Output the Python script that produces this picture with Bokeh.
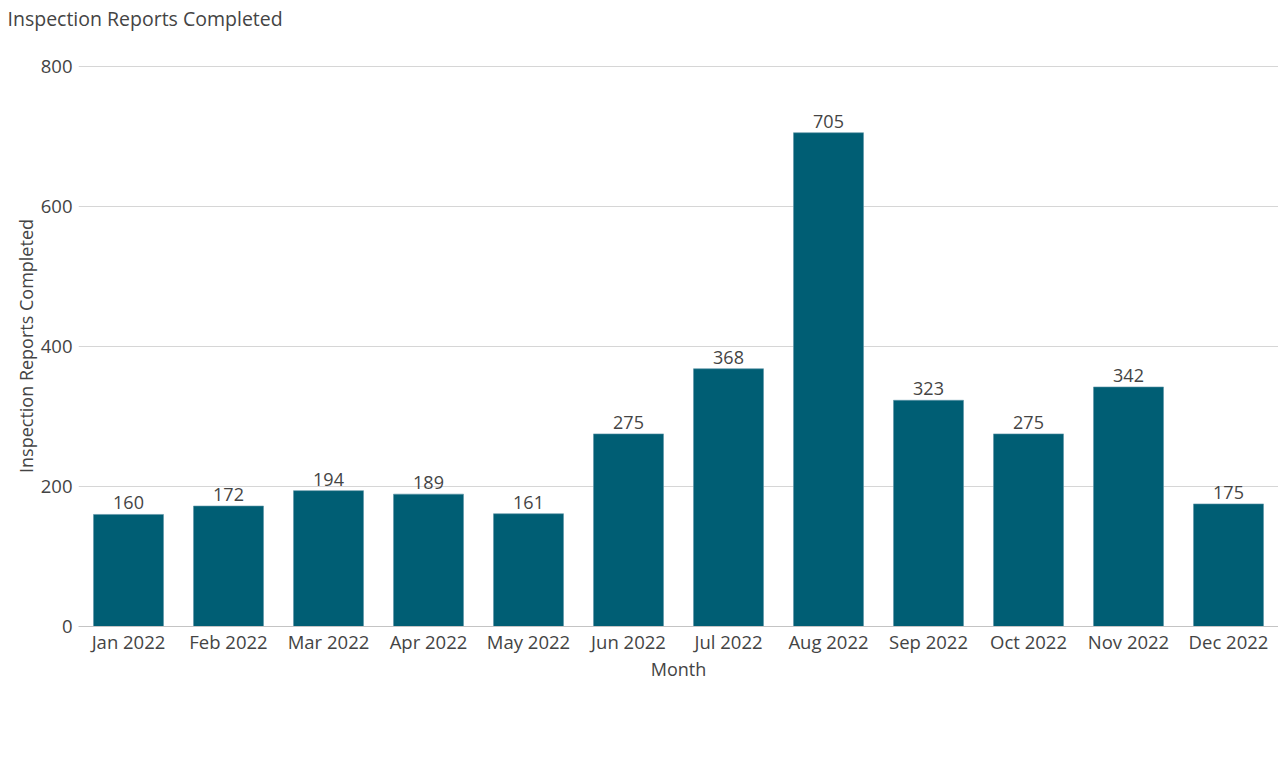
from bokeh.plotting import figure
from bokeh.models import ColumnDataSource, Range1d, FixedTicker, Title
from bokeh.embed import file_html
from bokeh.resources import INLINE
from bokeh.core.properties import value

months = ["Jan 2022", "Feb 2022", "Mar 2022", "Apr 2022", "May 2022", "Jun 2022",
          "Jul 2022", "Aug 2022", "Sep 2022", "Oct 2022", "Nov 2022", "Dec 2022"]
reports = [160, 172, 194, 189, 161, 275, 368, 705, 323, 275, 342, 175]
y_ticks = [0, 200, 400, 600, 800]
title_text = "Inspection Reports Completed"

FONT = "Open Sans"
TXT = "#444444"

src = ColumnDataSource(dict(month=months, reports=reports,
                            label=[str(v) for v in reports]))

p = figure(x_range=months, y_range=Range1d(0, 801), width=1278, height=747,
           output_backend="svg", toolbar_location=None,
           min_border_left=78, min_border_right=0, min_border_top=0,
           min_border_bottom=121)

p.title.text = title_text
p.title.text_font = FONT
p.title.text_font_size = "19.5px"
p.title.text_font_style = "normal"
p.title.text_color = TXT
p.title.offset = -71
p.title.standoff = 4

spacer = Title(text=" ", text_font_size="10px", standoff=19, text_color="white")
p.add_layout(spacer, "above")

p.vbar(x="month", top="reports", width=0.7, source=src,
       fill_color="#005e74", line_color="#5d93a6", line_width=0.6)
p.text(x="month", y="reports", text="label", source=src, y_offset=-5,
       text_align="center", text_baseline="bottom",
       text_font=value(FONT), text_font_size="18px", text_color=TXT)

p.outline_line_color = None
p.background_fill_color = "white"

p.xgrid.grid_line_color = None
p.ygrid.grid_line_color = "#d6d6d6"
p.ygrid.grid_line_width = 1
p.yaxis.ticker = FixedTicker(ticks=y_ticks)

for ax in (p.xaxis[0], p.yaxis[0]):
    ax.major_tick_line_color = None
    ax.minor_tick_line_color = None
    ax.major_tick_out = 0
    ax.major_tick_in = 0
    ax.minor_tick_out = 0
    ax.major_label_text_font = FONT
    ax.major_label_text_font_size = "18.5px"
    ax.major_label_text_color = TXT
    ax.axis_label_text_font = FONT
    ax.axis_label_text_font_size = "18px"
    ax.axis_label_text_font_style = "normal"
    ax.axis_label_text_color = TXT

p.yaxis.axis_line_color = None
p.xaxis.axis_line_color = "#c4c4c4"
p.yaxis.axis_label = "Inspection Reports Completed"
p.xaxis.axis_label = "Month"
p.yaxis.major_label_standoff = 6
p.xaxis.major_label_standoff = 2
p.xaxis.axis_label_standoff = 0
p.yaxis.axis_label_standoff = 0

open("out.html", "w").write(file_html(p, INLINE))
